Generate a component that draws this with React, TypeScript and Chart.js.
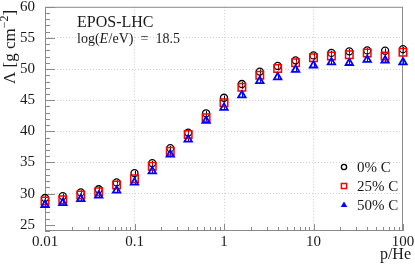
import React, { useEffect, useRef } from 'react';
import { Chart, registerables } from 'chart.js';

Chart.register(...registerables);

// p/He ratio (log-spaced)
const X_VALUES = [0.01, 0.0158, 0.0251, 0.0398, 0.0631, 0.1, 0.158, 0.251, 0.398, 0.631, 1, 1.585, 2.512, 3.981, 6.31, 10, 15.85, 25.12, 39.81, 63.1, 100];
// Lambda [g cm^-2]
const C0 = [29.3, 29.6, 30.2, 30.7, 31.8, 33.3, 34.9, 37.3, 39.8, 42.9, 45.4, 47.6, 49.6, 50.5, 51.4, 52.2, 52.6, 52.85, 53.0, 52.95, 53.2];
const C25 = [28.8, 29.0, 29.8, 30.3, 31.4, 32.4, 34.4, 36.8, 39.5, 42.2, 44.6, 47.1, 49.0, 50.1, 51.0, 51.8, 52.1, 52.3, 52.6, 52.1, 52.7];
const C50 = [28.2, 28.5, 29.15, 29.7, 30.5, 31.8, 33.6, 36.3, 38.7, 41.7, 43.8, 45.8, 48.1, 48.7, 49.9, 50.6, 51.1, 51.0, 51.5, 51.4, 51.1];
const SERIES_LABELS = ['0% C', '25% C', '50% C'];
const ERR = 0.35;

const X_TICKS = [0.01, 0.1, 1, 10, 100];
const X_TICK_LABELS = ['0.01', '0.1', '1', '10', '100'];
const Y_TICKS = [25, 30, 35, 40, 45, 50, 55, 60];
const Y_MIN = 24;
const Y_MAX = 60;

const FONT = "'Liberation Serif', serif";
const AXIS_COLOR = '#8a8a8a';
const TEXT_COLOR = '#1a1a1a';

function drawMarker(ctx: CanvasRenderingContext2D, kind: number, x: number, y: number, s: number) {
  ctx.save();
  ctx.beginPath();
  if (kind === 0) {
    ctx.strokeStyle = '#000';
    ctx.lineWidth = 1.3;
    ctx.arc(x, y, s, 0, Math.PI * 2);
    ctx.stroke();
  } else if (kind === 1) {
    ctx.strokeStyle = '#ff0000';
    ctx.lineWidth = 1.5;
    ctx.rect(x - s, y - s, 2 * s, 2 * s);
    ctx.stroke();
  } else {
    ctx.fillStyle = '#0000ff';
    ctx.moveTo(x, y - s * 1.2);
    ctx.lineTo(x + s * 1.1, y + s * 0.7);
    ctx.lineTo(x - s * 1.1, y + s * 0.7);
    ctx.closePath();
    ctx.fill();
  }
  ctx.restore();
}

const framePlugin = {
  id: 'frameTicks',
  beforeDatasetsDraw(chart: any) {
    const { ctx, chartArea: a, scales } = chart;
    const xs = scales.x;
    const ys = scales.y;
    ctx.save();
    ctx.strokeStyle = AXIS_COLOR;
    ctx.lineWidth = 1;
    ctx.strokeRect(a.left + 0.5, a.top + 0.5, a.right - a.left - 1, a.bottom - a.top - 1);
    ctx.beginPath();
    // y ticks (inside)
    for (let v = Y_MIN; v <= Y_MAX; v++) {
      const py = Math.round(ys.getPixelForValue(v)) + 0.5;
      const len = v % 5 === 0 ? 10 : 5;
      ctx.moveTo(a.left, py);
      ctx.lineTo(a.left + len, py);
    }
    // x ticks (inside)
    for (let d = 0; d < X_TICKS.length; d++) {
      const dec = X_TICKS[d];
      for (let m = 1; m <= 9; m++) {
        const v = dec * m;
        if (v > 100.0001) break;
        const px = Math.round(xs.getPixelForValue(v)) + 0.5;
        const len = m === 1 ? 7 : 4;
        ctx.moveTo(px, a.bottom);
        ctx.lineTo(px, a.bottom - len);
      }
    }
    ctx.stroke();
    // error bars
    const sets = [C0, C25, C50];
    const cols = ['#000', '#ff0000', '#0000ff'];
    sets.forEach((arr, si) => {
      ctx.strokeStyle = cols[si];
      ctx.lineWidth = 1;
      ctx.beginPath();
      arr.forEach((v, i) => {
        const px = Math.round(xs.getPixelForValue(X_VALUES[i])) + 0.5;
        ctx.moveTo(px, ys.getPixelForValue(v + ERR));
        ctx.lineTo(px, ys.getPixelForValue(v - ERR));
      });
      ctx.stroke();
    });
    ctx.restore();
  },
  afterDraw(chart: any) {
    const { ctx, chartArea: a } = chart;
    ctx.save();
    ctx.fillStyle = TEXT_COLOR;
    ctx.textBaseline = 'alphabetic';
    ctx.textAlign = 'left';
    // annotation
    ctx.font = `16px ${FONT}`;
    ctx.fillText('EPOS-LHC', a.left + 32, a.top + 20);
    ctx.font = `14px ${FONT}`;
    let x = a.left + 32;
    const by = a.top + 36;
    ctx.fillText('log(', x, by);
    x += ctx.measureText('log(').width;
    ctx.font = `italic 14px ${FONT}`;
    ctx.fillText('E', x, by);
    x += ctx.measureText('E').width + 0.5;
    ctx.font = `14px ${FONT}`;
    ctx.fillText('/eV)  =  18.5', x, by);

    // y title
    ctx.save();
    ctx.translate(15, a.top + 3);
    ctx.rotate(-Math.PI / 2);
    ctx.textAlign = 'left';
    const parts: [string, number, number][] = [['Λ [g cm', 17, 0], ['−2', 12, -7], [']', 17, 0]];
    let tw = 0;
    parts.forEach(([t, s]) => { ctx.font = `${s}px ${FONT}`; tw += ctx.measureText(t).width; });
    let tx = -tw;
    parts.forEach(([t, s, dy]) => {
      ctx.font = `${s}px ${FONT}`;
      ctx.fillText(t, tx, dy);
      tx += ctx.measureText(t).width;
    });
    ctx.restore();

    // x title
    ctx.font = `16px ${FONT}`;
    ctx.textAlign = 'right';
    ctx.fillText('p/He', a.right + 8, 259);

    // legend
    const lx = a.right - 59;
    const ly = [a.bottom - 64, a.bottom - 45, a.bottom - 26];
    ctx.font = `15px ${FONT}`;
    ctx.textAlign = 'left';
    ctx.textBaseline = 'middle';
    SERIES_LABELS.forEach((lab, i) => {
      drawMarker(ctx, i, lx, ly[i], i === 2 ? 3 : 2.6);
      ctx.fillStyle = TEXT_COLOR;
      ctx.fillText(lab, lx + 13, ly[i] + 1);
    });
    ctx.restore();
  },
};

export default function App() {
  const ref = useRef<HTMLCanvasElement | null>(null);
  useEffect(() => {
    document.body.style.margin = '0';
    const canvas = ref.current;
    if (!canvas) return;
    const mk = (arr: number[]) => arr.map((y, i) => ({ x: X_VALUES[i], y }));
    const chart = new Chart(canvas, {
      type: 'scatter',
      data: {
        datasets: [
          {
            label: SERIES_LABELS[0], data: mk(C0), order: 2,
            pointStyle: 'circle', pointRadius: 3.5, pointBorderColor: '#000', pointBackgroundColor: 'rgba(0,0,0,0)', pointBorderWidth: 1.3, clip: false,
          },
          {
            label: SERIES_LABELS[1], data: mk(C25), order: 1,
            pointStyle: 'rect', pointRadius: 5.3, pointBorderColor: '#ff0000', pointBackgroundColor: 'rgba(0,0,0,0)', pointBorderWidth: 1.5, clip: false,
          },
          {
            label: SERIES_LABELS[2], data: mk(C50), order: 0,
            pointStyle: 'triangle', pointRadius: 4.3, pointBorderColor: '#0000ff', pointBackgroundColor: 'rgba(255,255,255,0)', pointBorderWidth: 1.8, clip: false,
          },
        ],
      } as any,
      options: {
        animation: false,
        responsive: false,
        devicePixelRatio: 1,
        layout: { padding: { left: 0, top: 5, right: 12, bottom: 0 } },
        plugins: { legend: { display: false }, tooltip: { enabled: false } },
        scales: {
          x: {
            type: 'logarithmic',
            min: 0.01,
            max: 100,
            afterBuildTicks: (s: any) => { s.ticks = X_TICKS.map((v) => ({ value: v })); },
            afterFit: (s: any) => { s.height = 33; s.paddingLeft = 0; s.paddingRight = 0; },
            ticks: {
              callback: (_v: any, i: number) => X_TICK_LABELS[i],
              font: { family: FONT, size: 15 },
              color: TEXT_COLOR,
              padding: 2,
              maxRotation: 0,
              autoSkip: false,
            },
            grid: {
              drawTicks: false,
              color: (c: any) => (c.index > 0 && c.index < X_TICKS.length - 1 ? '#d0d0d0' : 'rgba(0,0,0,0)'),
              lineWidth: 1,
            },
            border: { display: false, dash: [1, 2] },
          },
          y: {
            type: 'linear',
            min: Y_MIN,
            max: Y_MAX,
            afterBuildTicks: (s: any) => { s.ticks = Y_TICKS.map((v) => ({ value: v })); },
            afterFit: (s: any) => { s.width = 45; s.paddingTop = 0; s.paddingBottom = 0; },
            ticks: {
              callback: (v: any) => String(v),
              font: { family: FONT, size: 15 },
              color: TEXT_COLOR,
              padding: 10,
              autoSkip: false,
            },
            grid: {
              drawTicks: false,
              color: (c: any) => (c.tick && c.tick.value > 25 && c.tick.value < 60 ? '#d0d0d0' : 'rgba(0,0,0,0)'),
              lineWidth: 1,
            },
            border: { display: false, dash: [1, 2] },
          },
        },
      } as any,
      plugins: [framePlugin],
    });
    return () => chart.destroy();
  }, []);
  return (
    <div style={{ position: 'absolute', left: 0, top: 0, width: 415, height: 264, background: '#fff' }}>
      <canvas ref={ref} width={415} height={264} />
    </div>
  );
}
